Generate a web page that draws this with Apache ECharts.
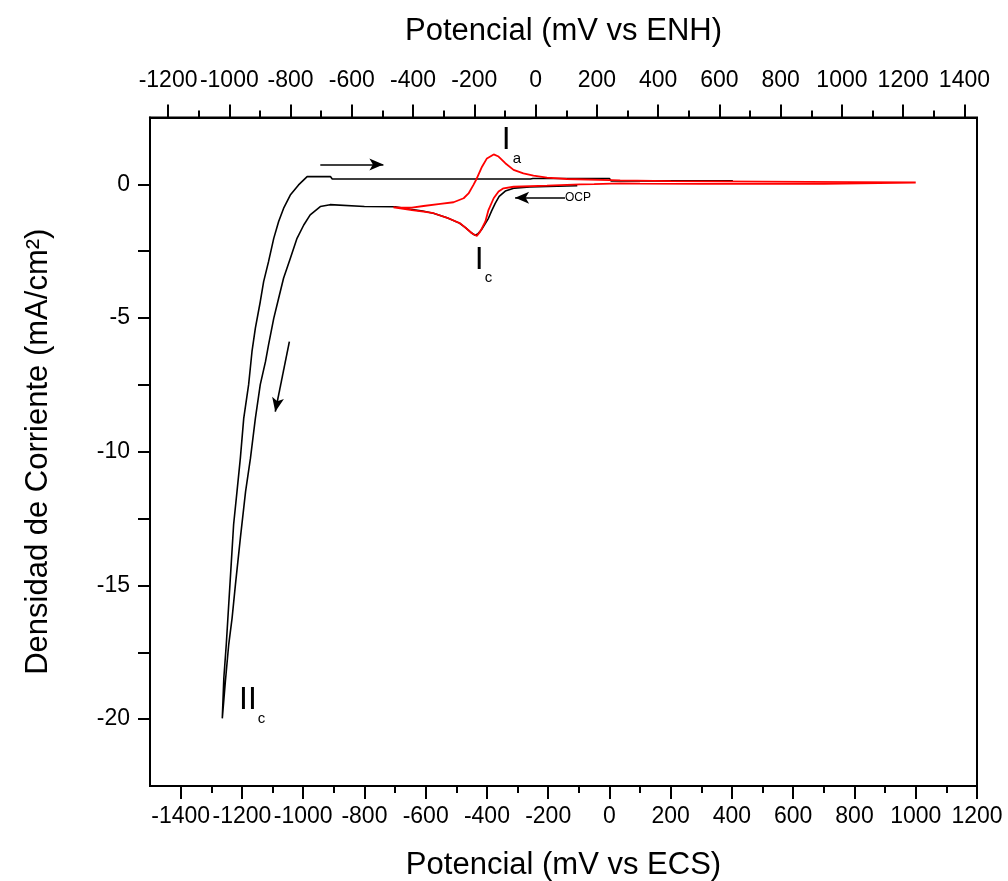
<!DOCTYPE html>
<html><head><meta charset="utf-8">
<script src="https://cdn.jsdelivr.net/npm/echarts@6/dist/echarts.min.js"></script>
<style>html,body{margin:0;padding:0;background:#fff}#c{width:1008px;height:881px}</style>
</head><body><div id="c"></div>
<script>
// Black voltammogram (mV vs ECS, mA/cm2), starting at OCP, sweeping negative then back
const blackX = [-105,-140,-200,-260,-310,-340,-360,-373,-385,-395,-405,-418,-430,-440,-452,-470,-490,-530,-575,-610,-650,-700,-800,-806,-912,-944,-977,-998,-1020,-1042,-1064,-1080,-1096,-1113,-1123,-1140,-1156,-1172,-1188,-1205,-1221,-1232,-1243,-1254,-1264,
  -1259,-1251,-1243,-1235,-1227,-1216,-1205,-1194,-1178,-1167,-1156,-1140,-1129,-1113,-1096,-1080,-1064,-1042,-1015,-987,-911,-905,-258,-250,0,5,403];
const blackY = [-0.05,-0.06,-0.08,-0.1,-0.14,-0.25,-0.45,-0.71,-1.0,-1.27,-1.46,-1.7,-1.86,-1.9,-1.8,-1.62,-1.45,-1.25,-1.08,-1.0,-0.93,-0.84,-0.83,-0.76,-0.76,-0.83,-1.14,-1.52,-2.02,-2.77,-3.51,-4.26,-5.01,-6.0,-6.63,-7.49,-8.75,-10.24,-11.49,-13.23,-14.96,-16.22,-17.21,-18.6,-19.97,
  -18.47,-17.21,-15.71,-14.22,-12.72,-11.49,-10.24,-8.75,-7.49,-6.25,-5.38,-4.39,-3.64,-2.89,-2.02,-1.39,-0.9,-0.4,-0.02,0.29,0.29,0.2,0.2,0.22,0.22,0.13,0.13];
// Red voltammogram
const redX = [-96,-139,-204,-313,-346,-362,-378,-395,-405,-422,-433,-449,-465,-487,-530,-574,-607,-645,-683,-705,
  -680,-645,-607,-552,-509,-476,-460,-444,-433,-416,-400,-378,-362,-340,-313,-281,-248,-204,-139,35,200,500,800,1000,
  1000,700,300,100,35,-50,-96];
const redY = [0.0,-0.02,-0.05,-0.09,-0.15,-0.27,-0.52,-0.96,-1.39,-1.77,-1.93,-1.83,-1.67,-1.46,-1.25,-1.08,-1.02,-0.96,-0.9,-0.86,
  -0.87,-0.87,-0.81,-0.73,-0.67,-0.52,-0.34,-0.02,0.22,0.66,0.97,1.12,1.04,0.79,0.54,0.41,0.33,0.25,0.2,0.15,0.12,0.1,0.08,0.07,
  0.03,0.02,0.02,0.03,0.04,0.01,0.0];
// Axis ticks
const ecsMajor = [-1400,-1200,-1000,-800,-600,-400,-200,0,200,400,600,800,1000,1200];
const ecsMinor = [-1300,-1100,-900,-700,-500,-300,-100,100,300,500,700,900,1100];
const enhMajor = [-1200,-1000,-800,-600,-400,-200,0,200,400,600,800,1000,1200,1400];
const enhMinor = [-1100,-900,-700,-500,-300,-100,100,300,500,700,900,1100,1300];
const yMajor = [-20,-15,-10,-5,0];
const yTicks = [-20,-17.5,-15,-12.5,-10,-7.5,-5,-2.5,0];
const ENH_OFFSET = 241;
const X_MIN = -1500, X_MAX = 1200, Y_MIN = -22.5, Y_MAX = 2.5;

const FONT = 'Liberation Sans, Arial, sans-serif';
const chart = echarts.init(document.getElementById('c'), null, {renderer:'canvas'});
const pair = (xs, ys) => xs.map((x,i)=>[x, ys[i]]);
const fmt = v => String(Math.round(v*10)/10);
const lineC = {color:'#000', width:2};
function xAx(pos, min, max, major, minor, name, gap, margin){
  return [{
    type:'value', position:pos, min:min, max:max,
    axisLine:{show:true, onZero:false, lineStyle:lineC},
    axisTick:{show:true, inside:false, length:13, customValues:major, lineStyle:lineC},
    axisLabel:{show:true, customValues:major, formatter:fmt, hideOverlap:false, showMinLabel:true, showMaxLabel:true,
      fontSize:23, color:'#000', fontFamily:FONT, margin:margin},
    splitLine:{show:false},
    name:name, nameLocation:'middle', nameGap:gap,
    nameTextStyle:{fontSize:31, color:'#000', fontFamily:FONT}
  },{
    type:'value', position:pos, min:min, max:max,
    axisLine:{show:false, onZero:false},
    axisTick:{show:true, inside:false, length:7, customValues:minor, lineStyle:lineC},
    axisLabel:{show:false}, splitLine:{show:false}
  }];
}
const option = {
  animation:false,
  backgroundColor:'#fff',
  grid:{left:150, right:31, top:117.5, bottom:95, show:true, borderColor:'#000', borderWidth:2,
    backgroundColor:'transparent', containLabel:false, outerBoundsMode:'none'},
  xAxis: [].concat(
    xAx('bottom', X_MIN, X_MAX, ecsMajor, ecsMinor, 'Potencial (mV vs ECS)', 64, 19),
    xAx('top', X_MIN+ENH_OFFSET, X_MAX+ENH_OFFSET, enhMajor, enhMinor, 'Potencial (mV vs ENH)', 71, 25)
  ),
  yAxis:[{
    type:'value', min:Y_MIN, max:Y_MAX,
    axisLine:{show:true, onZero:false, lineStyle:lineC},
    axisTick:{show:true, inside:false, length:12, customValues:yTicks, lineStyle:lineC},
    axisLabel:{customValues:yMajor, formatter:fmt, hideOverlap:false, fontSize:23, color:'#000', fontFamily:FONT, margin:20},
    splitLine:{show:false},
    name:'Densidad de Corriente (mA/cm²)', nameLocation:'middle', nameGap:96, nameRotate:90,
    nameTextStyle:{fontSize:31, color:'#000', fontFamily:FONT}
  }],
  series:[{
    type:'line', xAxisIndex:0, yAxisIndex:0, data:pair(blackX, blackY), showSymbol:false, silent:true,
    lineStyle:{color:'#000', width:1.6}, itemStyle:{color:'#000'},
    markLine:{
      silent:true, symbol:['none','arrow'], symbolSize:[9,14], label:{show:false},
      lineStyle:{color:'#000', width:1.6, type:'solid'},
      data:[
        [{coord:[-944,0.74]},{coord:[-738,0.74]}],
        [{coord:[-145,-0.5]},{coord:[-308,-0.5]}],
        [{coord:[-1045,-5.88]},{coord:[-1091,-8.5]}]
      ]
    }
  },{
    type:'line', xAxisIndex:0, yAxisIndex:0, data:pair(redX, redY), showSymbol:false, silent:true,
    lineStyle:{color:'#ff0000', width:1.8}, itemStyle:{color:'#ff0000'}
  }]
};
chart.setOption(option);

// Text annotations anchored in data coordinates
const notes = [
  {t:'I', x:-337, y:1.67, size:32, align:'center'},
  {t:'a', x:-302, y:0.97, size:15, align:'center'},
  {t:'I', x:-425, y:-2.82, size:32, align:'center'},
  {t:'c', x:-395, y:-3.51, size:15, align:'center'},
  {t:'II', x:-1180, y:-19.3, size:32, align:'center'},
  {t:'c', x:-1136, y:-20.0, size:15, align:'center'},
  {t:'OCP', x:-145, y:-0.5, size:12, align:'left'}
];
const gfx = notes.map(n => {
  const p = chart.convertToPixel({xAxisIndex:0, yAxisIndex:0}, [n.x, n.y]);
  return {type:'text', x:p[0], y:p[1], silent:true,
    style:{text:n.t, fontSize:n.size, fontFamily:FONT, fill:'#000', align:n.align, verticalAlign:'middle'}};
});
chart.setOption({graphic:gfx});
</script>
</body></html>
